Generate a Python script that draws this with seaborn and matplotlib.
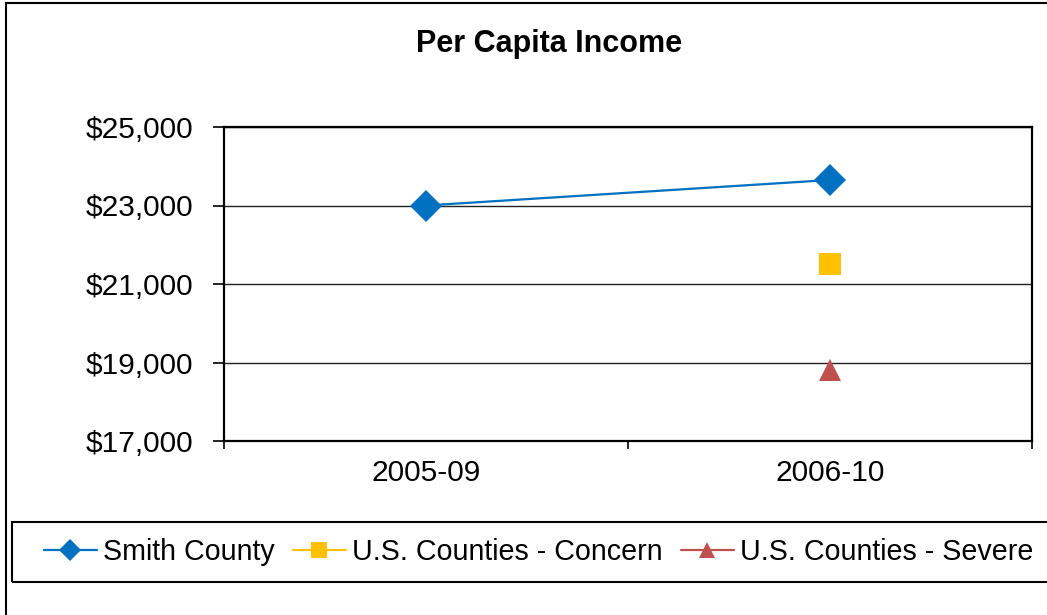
import pandas as pd
import matplotlib.pyplot as plt
import seaborn as sns
import numpy as np
from matplotlib.patches import Rectangle
from matplotlib.ticker import FuncFormatter, FixedLocator

# Data
periods = ["2005-09", "2006-10"]
smith_county = [23000, 23650]
concern = [np.nan, 21500]
severe = [np.nan, 18800]
series_names = ["Smith County", "U.S. Counties - Concern", "U.S. Counties - Severe"]

rows = []
for name, vals in zip(series_names, [smith_county, concern, severe]):
    for i, (p, v) in enumerate(zip(periods, vals)):
        rows.append({"pos": i, "period": p, "series": name, "income": v})
df = pd.DataFrame(rows).dropna()

sns.set_style("white")
plt.rcParams["font.family"] = ["Liberation Sans", "DejaVu Sans"]
plt.rcParams["text.color"] = "black"
plt.rcParams["xtick.color"] = "black"
plt.rcParams["ytick.color"] = "black"

colors = {"Smith County": "#0070C0",
          "U.S. Counties - Concern": "#FFC000",
          "U.S. Counties - Severe": "#C0504D"}
markers = {"Smith County": "D",
           "U.S. Counties - Concern": "s",
           "U.S. Counties - Severe": "^"}

fig = plt.figure(figsize=(10.47, 6.15), dpi=100)
ax = fig.add_axes([224 / 1047, 1 - 441 / 615, 808 / 1047, 314 / 615])

sns.lineplot(data=df, x="pos", y="income", hue="series", style="series",
             palette=colors, markers=markers, dashes=False, markersize=16,
             markeredgewidth=0, linewidth=1.6, ax=ax, hue_order=series_names,
             style_order=series_names)

ax.set_xlim(-0.5, 1.5)
ax.set_ylim(17000, 25000)
ax.set_yticks(np.arange(17000, 25001, 2000))
ax.yaxis.set_major_formatter(FuncFormatter(lambda v, _: f"${v:,.0f}"))
ax.grid(True, axis="y", color="#222222", linewidth=1)
ax.set_axisbelow(True)

# category labels between boundary tick marks
ax.xaxis.set_major_locator(FixedLocator([-0.5, 0.5, 1.5]))
ax.set_xticklabels(["", "", ""])
ax.xaxis.set_minor_locator(FixedLocator([0, 1]))
ax.set_xticklabels(periods, minor=True)
ax.tick_params(axis="x", which="major", length=6, width=1.2, bottom=True)
ax.tick_params(axis="x", which="minor", length=0, labelsize=21.5, pad=13)
ax.tick_params(axis="y", length=8, width=1.2, left=True, labelsize=21.5, pad=14)

for s in ax.spines.values():
    s.set_color("black")
    s.set_linewidth(1.6)

ax.set_xlabel("")
ax.set_ylabel("")

fig.text(549 / 1047, 1 - 44 / 615, "Per Capita Income", ha="center", va="center",
         fontsize=22, fontweight="bold")

handles, labels = ax.get_legend_handles_labels()
ax.get_legend().remove()
leg = fig.legend(handles, labels, loc="center left", bbox_to_anchor=(44 / 1047, 1 - 552 / 615),
                 ncol=3, fontsize=20.6, frameon=False,
                 handlelength=1.85, handletextpad=0.2, columnspacing=0.65,
                 borderpad=0, borderaxespad=0, markerscale=0.7)

# legend box
fig.patches.append(Rectangle((12 / 1047, 1 - 582 / 615), 1.1, 60 / 615, transform=fig.transFigure,
                             fill=False, edgecolor="black", linewidth=1.5))
# outer chart border
fig.patches.append(Rectangle((6 / 1047, -0.1), 1.2, 1.1 - 3 / 615, transform=fig.transFigure,
                             fill=False, edgecolor="black", linewidth=1.5))

fig.savefig("out.png", dpi=100)
